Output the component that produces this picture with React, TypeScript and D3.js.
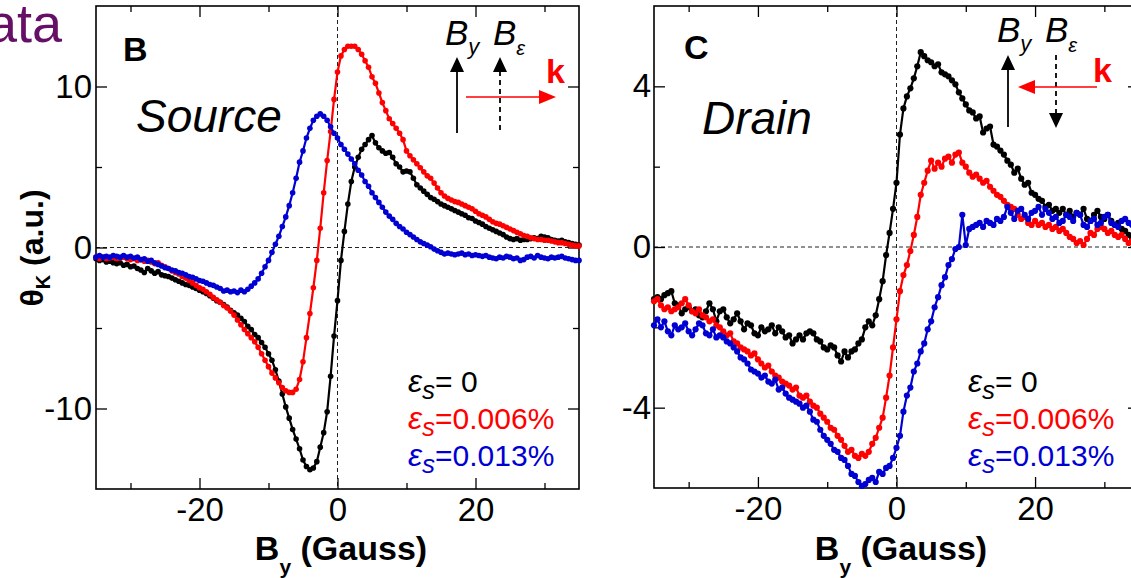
import { useRef, useEffect } from 'react';
import * as d3 from 'd3';

// 掃引磁場 (Gauss) : 0.5 G 刻み
const fieldGauss = d3.range(-35, 35.001, 0.5);

// Source 側 (panel B)
const sourceStrain0 = [
  -0.7, -0.8, -0.75, -0.9, -0.85, -0.95, -1.0, -0.95, -1.1, -1.05,
  -1.2, -1.15, -1.3, -1.4, -1.55, -1.3, -1.45, -1.6, -1.5, -1.7,
  -1.75, -1.8, -1.9, -2.0, -2.1, -2.2, -2.3, -2.35, -2.45, -2.55,
  -2.65, -2.75, -2.85, -3.0, -3.15, -3.3, -3.4, -3.55, -3.7, -3.9,
  -4.05, -4.2, -4.4, -4.6, -4.9, -5.1, -5.4, -5.6, -5.9, -6.2,
  -6.6, -7.0, -7.6, -8.3, -9.1, -9.9, -10.6, -11.3, -11.9, -12.5,
  -13.2, -13.6, -13.8, -13.7, -13.3, -12.4, -11.5, -10.2, -8.0, -5.5,
  -3.3, -0.8, 1.0, 2.7, 4.1, 5.0, 5.6, 6.1, 6.4, 6.7,
  6.95, 6.5, 6.2, 6.0, 5.85, 5.9, 5.6, 5.2, 5.0, 4.7,
  4.75, 4.7, 4.3, 3.9, 3.7, 3.5, 3.3, 3.1, 3.0, 2.85,
  2.7, 2.6, 2.5, 2.4, 2.3, 2.2, 2.1, 2.0, 1.85, 1.8,
  1.65, 1.55, 1.45, 1.3, 1.2, 1.1, 1.0, 0.9, 0.8, 0.65,
  0.55, 0.5, 0.55, 0.45, 0.5, 0.5, 0.55, 0.6, 0.55, 0.7,
  0.65, 0.6, 0.5, 0.45, 0.4, 0.45, 0.35, 0.3, 0.25, 0.2,
  0.15,
];
const sourceStrain006 = [
  -0.6, -0.7, -0.6, -0.7, -0.65, -0.6, -0.7, -0.65, -0.6, -0.7,
  -0.75, -0.7, -0.8, -0.75, -0.85, -0.8, -0.9, -1.0, -0.95, -1.1,
  -1.2, -1.3, -1.45, -1.55, -1.65, -1.8, -1.9, -2.05, -2.2, -2.35,
  -2.5, -2.6, -2.75, -2.9, -3.1, -3.25, -3.4, -3.6, -3.75, -3.95,
  -4.2, -4.5, -4.8, -5.1, -5.35, -5.6, -5.85, -6.2, -6.6, -7.0,
  -7.4, -7.8, -8.1, -8.4, -8.7, -8.9, -9.0, -9.0, -8.8, -8.2,
  -7.1, -5.6, -4.1, -2.5, -0.8, 1.2, 3.4, 5.4, 7.2, 9.2,
  10.9, 11.9, 12.3, 12.5, 12.5, 12.5, 12.3, 12.0, 11.6, 11.2,
  10.6, 10.2, 9.6, 9.0, 8.5, 8.0, 7.7, 7.4, 7.1, 6.7,
  6.0, 5.7, 5.45, 5.2, 4.95, 4.7, 4.45, 4.3, 4.0, 3.7,
  3.4, 3.2, 3.05, 2.95, 2.85, 2.8, 2.7, 2.6, 2.5, 2.4,
  2.25, 2.1, 2.0, 1.9, 1.75, 1.6, 1.5, 1.45, 1.35, 1.25,
  1.15, 1.05, 0.95, 0.85, 0.75, 0.7, 0.6, 0.55, 0.5, 0.5,
  0.45, 0.45, 0.4, 0.35, 0.3, 0.3, 0.25, 0.2, 0.15, 0.1,
  0.1,
];
const sourceStrain013 = [
  -0.6, -0.5, -0.6, -0.55, -0.6, -0.5, -0.55, -0.6, -0.5, -0.6,
  -0.55, -0.65, -0.6, -0.75, -0.7, -0.85, -0.8, -0.95, -1.05, -1.15,
  -1.25, -1.3, -1.4, -1.45, -1.55, -1.6, -1.7, -1.8, -1.85, -1.95,
  -2.05, -2.1, -2.2, -2.3, -2.35, -2.45, -2.55, -2.7, -2.65, -2.75,
  -2.7, -2.8, -2.65, -2.75, -2.6, -2.4, -2.2, -1.95, -1.6, -1.2,
  -0.8, -0.3, 0.2, 0.7, 1.3, 1.9, 2.6, 3.4, 4.3, 5.3,
  6.0, 6.8, 7.4, 7.9, 8.15, 8.3, 8.15, 7.9, 7.5, 7.1,
  6.8, 6.4, 6.1, 5.8, 5.5, 5.2, 4.8, 4.5, 4.1, 3.8,
  3.4, 3.1, 2.8, 2.5, 2.2, 1.95, 1.75, 1.5, 1.3, 1.15,
  0.95, 0.8, 0.65, 0.5, 0.35, 0.25, 0.15, 0.05, -0.1, -0.2,
  -0.3, -0.4, -0.35, -0.4, -0.45, -0.4, -0.35, -0.45, -0.4, -0.5,
  -0.45, -0.5, -0.55, -0.5, -0.6, -0.65, -0.7, -0.6, -0.65, -0.55,
  -0.6, -0.7, -0.65, -0.8, -0.75, -0.6, -0.55, -0.65, -0.5, -0.6,
  -0.65, -0.7, -0.6, -0.65, -0.6, -0.55, -0.65, -0.7, -0.75, -0.8,
  -0.8,
];

// Drain 側 (panel C)
const drainStrain0 = [
  -1.3, -1.25, -1.3, -1.2, -1.15, -1.1, -1.4, -1.45, -1.65, -1.55,
  -1.5, -1.6, -1.55, -1.7, -1.75, -1.6, -1.4, -1.55, -1.85, -1.6,
  -1.55, -1.75, -1.9, -1.8, -1.65, -1.85, -2.05, -1.9, -1.95, -2.15,
  -2.2, -2.0, -2.1, -2.05, -1.95, -2.15, -2.0, -2.1, -2.25, -2.2,
  -2.4, -2.3, -2.2, -2.3, -2.15, -2.1, -2.15, -2.3, -2.35, -2.5,
  -2.55, -2.45, -2.5, -2.7, -2.85, -2.6, -2.75, -2.6, -2.55, -2.4,
  -2.3, -2.0, -1.85, -1.95, -1.7, -1.3, -0.85, -0.2, 0.35, 0.95,
  1.6, 2.8, 3.45, 3.75, 3.95, 4.2, 4.5, 4.85, 4.75, 4.65,
  4.6, 4.5, 4.55, 4.35, 4.3, 4.25, 4.15, 4.05, 3.85, 3.7,
  3.55, 3.4, 3.35, 3.2, 3.25, 2.85, 2.95, 3.0, 2.55, 2.5,
  2.4, 2.3, 2.15, 2.05, 1.85, 1.95, 1.7, 1.55, 1.6, 1.35,
  1.3, 1.2, 1.15, 1.0, 1.05, 0.9, 0.95, 0.85, 0.95, 0.8,
  0.9, 0.75, 0.85, 0.8, 0.95, 0.7, 0.65, 0.8, 0.9, 0.75,
  0.7, 0.8, 0.65, 0.55, 0.6, 0.45, 0.4, 0.3, 0.2, 0.25,
  0.2,
];
const drainStrain006 = [
  -1.35, -1.3, -1.45, -1.55, -1.5, -1.6, -1.55, -1.5, -1.4, -1.3,
  -1.45, -1.6, -1.65, -1.55, -1.7, -1.75, -1.85, -1.8, -1.95, -2.0,
  -2.1, -2.2, -2.15, -2.35, -2.4, -2.5, -2.55, -2.6, -2.7, -2.65,
  -2.8, -2.9, -3.0, -2.95, -3.1, -3.2, -3.25, -3.35, -3.4, -3.45,
  -3.55, -3.5, -3.7, -3.75, -3.7, -3.85, -3.95, -4.0, -4.15, -4.25,
  -4.35, -4.5, -4.55, -4.7, -4.8, -4.95, -5.1, -5.05, -5.2, -5.25,
  -5.15, -5.2, -5.1, -4.9, -4.75, -4.5, -4.25, -3.75, -3.2, -2.5,
  -1.8, -1.1, -0.7, -0.45, -0.1, 0.3, 0.75, 1.3, 1.6, 1.9,
  2.15, 1.95, 2.1, 2.0, 2.2, 2.25, 2.1, 2.3, 2.35, 2.1,
  2.0, 1.85, 1.75, 1.8, 1.7, 1.6, 1.65, 1.5, 1.4, 1.3,
  1.25, 1.15, 1.05, 1.0, 0.95, 0.8, 0.7, 0.75, 0.6, 0.55,
  0.65, 0.55, 0.6, 0.5, 0.55, 0.45, 0.5, 0.4, 0.45, 0.35,
  0.25, 0.2, 0.1, 0.15, 0.05, 0.2, 0.35, 0.3, 0.45, 0.5,
  0.45, 0.35, 0.4, 0.3, 0.25, 0.3, 0.2, 0.1, 0.15, 0.05,
  0.1,
];
const drainStrain013 = [
  -1.95, -1.8, -2.0, -1.85, -2.1, -2.2, -1.95, -2.05, -2.0, -1.9,
  -2.1, -2.2, -2.05, -1.9, -1.95, -2.15, -2.2, -2.05, -2.25, -2.2,
  -2.25, -2.35, -2.4, -2.5, -2.6, -2.75, -2.8, -2.9, -3.05, -3.1,
  -3.15, -3.25, -3.2, -3.35, -3.4, -3.3, -3.55, -3.5, -3.65, -3.75,
  -3.8, -3.85, -3.9, -4.0, -3.95, -4.1, -4.3, -4.35, -4.55, -4.7,
  -4.8, -4.9, -5.05, -5.1, -5.25, -5.3, -5.45, -5.65, -5.7, -5.85,
  -5.95, -5.9, -5.8, -5.75, -5.85, -5.6, -5.65, -5.5, -5.45, -5.25,
  -5.0, -4.7, -4.1, -3.7, -3.5, -3.1, -2.9, -2.6, -2.4, -2.05,
  -1.85, -1.5, -1.25, -0.95, -0.75, -0.45, -0.3, -0.05, 0.0, 0.8,
  0.05, 0.45, 0.5, 0.55, 0.6, 0.5, 0.65, 0.6, 0.55, 0.7,
  0.65, 0.75, 1.0, 0.85, 0.7, 0.9, 0.95, 0.8, 0.7, 0.85,
  0.9, 1.0, 0.8, 0.95, 0.85, 0.7, 0.75, 0.6, 0.65, 0.8,
  0.75, 0.65, 0.85, 0.8, 0.55, 0.5, 0.65, 0.7, 0.55, 0.6,
  0.75, 0.8, 0.6, 0.55, 0.5, 0.65, 0.7, 0.6, 0.55, 0.65,
  0.6,
];

const strainLabels = ['= 0', '=0.006%', '=0.013%'];
const xTicksMajor = [-20, 0, 20];
const xTicksMinor = [-30, -10, 10, 30];
const sourceTicksMajor = [-10, 0, 10];
const sourceTicksMinor = [-5, 5];
const drainTicksMajor = [-4, 0, 4];
const drainTicksMinor = [-2, 2];

const FONT = '"Liberation Sans", Arial, Helvetica, sans-serif';
const COLORS = ['#000000', '#ff0000', '#0000d2'];

function drawPanel(svg, cfg) {
  const x = d3.scaleLinear().domain([-35, 35]).range([cfg.left, cfg.right]);
  const y = d3.scaleLinear().domain(cfg.yDomain).range([cfg.bottom, cfg.top]);
  const g = svg.append('g');

  // ゼロ線 (破線)
  g.append('line')
    .attr('x1', x(0)).attr('x2', x(0))
    .attr('y1', cfg.top).attr('y2', cfg.bottom)
    .attr('stroke', '#222').attr('stroke-width', 1).attr('stroke-dasharray', '4,3');
  g.append('line')
    .attr('x1', cfg.left).attr('x2', cfg.right)
    .attr('y1', y(0)).attr('y2', y(0))
    .attr('stroke', '#222').attr('stroke-width', 1).attr('stroke-dasharray', '4,3');

  // 軸 (目盛りは内向き)
  const fmt = d => String(d);
  const none = () => '';
  const axes = [
    [d3.axisBottom(x).tickValues(xTicksMajor).tickSize(-11).tickPadding(9).tickFormat(fmt), 0, cfg.bottom],
    [d3.axisBottom(x).tickValues(xTicksMinor).tickSize(-6).tickFormat(none), 0, cfg.bottom],
    [d3.axisTop(x).tickValues(xTicksMajor).tickSize(-11).tickFormat(none), 0, cfg.top],
    [d3.axisTop(x).tickValues(xTicksMinor).tickSize(-6).tickFormat(none), 0, cfg.top],
    [d3.axisLeft(y).tickValues(cfg.yMajor).tickSize(-11).tickPadding(cfg.labelPad).tickFormat(fmt), cfg.left, 0],
    [d3.axisLeft(y).tickValues(cfg.yMinor).tickSize(-6).tickFormat(none), cfg.left, 0],
    [d3.axisRight(y).tickValues(cfg.yMajor).tickSize(-11).tickFormat(none), cfg.right, 0],
    [d3.axisRight(y).tickValues(cfg.yMinor).tickSize(-6).tickFormat(none), cfg.right, 0],
  ];
  axes.forEach(([axis, tx, ty]) => {
    const ag = g.append('g').attr('transform', `translate(${tx},${ty})`).call(axis);
    ag.select('.domain').remove();
    ag.selectAll('line').attr('stroke', '#000').attr('stroke-width', 1.3);
    ag.selectAll('text')
      .attr('font-family', FONT)
      .attr('font-size', 33)
      .attr('fill', '#000');
  });

  // 枠
  g.append('rect')
    .attr('x', cfg.left).attr('y', cfg.top)
    .attr('width', cfg.right - cfg.left).attr('height', cfg.bottom - cfg.top)
    .attr('fill', 'none').attr('stroke', '#000').attr('stroke-width', 1.6);

  // データ
  const line = d3.line().x(d => x(d[0])).y(d => y(d[1]));
  cfg.series.forEach((vals, i) => {
    const pts = fieldGauss.map((f, k) => [f, vals[k]]);
    g.append('path')
      .datum(pts)
      .attr('d', line)
      .attr('fill', 'none')
      .attr('stroke', COLORS[i])
      .attr('stroke-width', 2.2);
    g.append('g').selectAll('circle')
      .data(pts)
      .enter()
      .append('circle')
      .attr('cx', d => x(d[0]))
      .attr('cy', d => y(d[1]))
      .attr('r', cfg.markerR)
      .attr('fill', COLORS[i]);
  });

  // x軸タイトル
  const xt = g.append('text')
    .attr('x', cfg.xTitleX).attr('y', 560)
    .attr('text-anchor', 'middle')
    .attr('font-family', FONT).attr('font-weight', 'bold').attr('font-size', 34);
  xt.append('tspan').text('B');
  xt.append('tspan').attr('font-size', 21).attr('dy', 14).text('y');
  xt.append('tspan').attr('dy', -14).text(' (Gauss)');

  // 凡例
  strainLabels.forEach((lab, i) => {
    const t = g.append('text')
      .attr('x', cfg.legendX).attr('y', 392 + i * 37)
      .attr('font-family', FONT).attr('font-size', 30)
      .attr('fill', COLORS[i]);
    t.append('tspan').attr('font-style', 'italic').attr('font-size', 32).text('ε');
    t.append('tspan').attr('font-style', 'italic').attr('font-size', 26).attr('dy', 7).text('s');
    t.append('tspan').attr('dy', -7).text(lab);
  });

  return { x, y, g };
}

function drawArrowHead(g, tipX, tipY, dir, color) {
  // dir: 'up' | 'down' | 'left' | 'right'
  const L = 15, W = 7;
  let pts;
  if (dir === 'up') pts = [[tipX, tipY], [tipX - W, tipY + L], [tipX + W, tipY + L]];
  else if (dir === 'down') pts = [[tipX, tipY], [tipX - W, tipY - L], [tipX + W, tipY - L]];
  else if (dir === 'right') pts = [[tipX, tipY], [tipX - L - 2, tipY - W], [tipX - L - 2, tipY + W]];
  else pts = [[tipX, tipY], [tipX + L + 2, tipY - W], [tipX + L + 2, tipY + W]];
  g.append('path').attr('d', 'M' + pts.join('L') + 'Z').attr('fill', color);
}

function drawFieldLabels(g, bx, by) {
  const t1 = g.append('text').attr('x', bx).attr('y', by)
    .attr('font-family', FONT).attr('font-style', 'italic').attr('font-size', 35);
  t1.append('tspan').text('B');
  t1.append('tspan').attr('font-size', 22).attr('dy', 9).text('y');
  const t2 = g.append('text').attr('x', bx + 48).attr('y', by)
    .attr('font-family', FONT).attr('font-style', 'italic').attr('font-size', 35);
  t2.append('tspan').text('B');
  t2.append('tspan').attr('font-size', 20).attr('dy', 10).text('ε');
}

export default function App() {
  const svgRef = useRef(null);

  useEffect(() => {
    const svg = d3.select(svgRef.current);
    svg.selectAll('*').remove();

    svg.append('rect').attr('width', 1131).attr('height', 578).attr('fill', '#fff');

    // 左上の見切れたタイトル
    svg.append('text')
      .attr('x', 62).attr('y', 42)
      .attr('text-anchor', 'end')
      .attr('font-family', FONT).attr('font-size', 54)
      .attr('fill', '#650f66')
      .text('Data');

    // ---- Panel B (Source) ----
    const pb = drawPanel(svg, {
      left: 96, right: 579, top: 6, bottom: 489,
      yDomain: [-15, 15], yMajor: sourceTicksMajor, yMinor: sourceTicksMinor,
      labelPad: 4, markerR: 2.8, xTitleX: 341, legendX: 408,
      series: [sourceStrain0, sourceStrain006, sourceStrain013],
    });

    const yt = svg.append('text')
      .attr('transform', 'translate(43,248) rotate(-90)')
      .attr('text-anchor', 'middle')
      .attr('font-family', FONT).attr('font-weight', 'bold').attr('font-size', 32);
    yt.append('tspan').text('θ');
    yt.append('tspan').attr('font-size', 20).attr('dy', 7).text('K');
    yt.append('tspan').attr('dy', -7).text(' (a.u.)');

    const gb = pb.g;
    gb.append('text').attr('x', 123).attr('y', 61)
      .attr('font-family', FONT).attr('font-weight', 'bold').attr('font-size', 34).text('B');
    gb.append('text').attr('x', 136).attr('y', 132)
      .attr('font-family', FONT).attr('font-style', 'italic').attr('font-size', 46).text('Source');
    drawFieldLabels(gb, 445, 45);
    gb.append('line').attr('x1', 457).attr('x2', 457).attr('y1', 133).attr('y2', 70)
      .attr('stroke', '#000').attr('stroke-width', 1.8);
    drawArrowHead(gb, 457, 57, 'up', '#000');
    gb.append('line').attr('x1', 500).attr('x2', 500).attr('y1', 130).attr('y2', 70)
      .attr('stroke', '#000').attr('stroke-width', 1.8).attr('stroke-dasharray', '5,4');
    drawArrowHead(gb, 500, 57, 'up', '#000');
    gb.append('line').attr('x1', 466).attr('x2', 542).attr('y1', 97).attr('y2', 97)
      .attr('stroke', '#ff0000').attr('stroke-width', 1.6);
    drawArrowHead(gb, 556, 97, 'right', '#ff0000');
    gb.append('text').attr('x', 546).attr('y', 83)
      .attr('font-family', FONT).attr('font-weight', 'bold').attr('font-size', 34)
      .attr('fill', '#ff0000').text('k');

    // ---- Panel C (Drain) ----
    const pc = drawPanel(svg, {
      left: 654, right: 1139, top: 6, bottom: 488,
      yDomain: [-6, 6], yMajor: drainTicksMajor, yMinor: drainTicksMinor,
      labelPad: 3, markerR: 3.1, xTitleX: 901, legendX: 968,
      series: [drainStrain0, drainStrain006, drainStrain013],
    });
    const gc = pc.g;
    gc.append('text').attr('x', 684).attr('y', 59)
      .attr('font-family', FONT).attr('font-weight', 'bold').attr('font-size', 34).text('C');
    gc.append('text').attr('x', 702).attr('y', 134)
      .attr('font-family', FONT).attr('font-style', 'italic').attr('font-size', 46).text('Drain');
    drawFieldLabels(gc, 997, 42);
    gc.append('line').attr('x1', 1008).attr('x2', 1008).attr('y1', 127).attr('y2', 68)
      .attr('stroke', '#000').attr('stroke-width', 1.8);
    drawArrowHead(gc, 1008, 55, 'up', '#000');
    gc.append('line').attr('x1', 1056).attr('x2', 1056).attr('y1', 55).attr('y2', 115)
      .attr('stroke', '#000').attr('stroke-width', 1.8).attr('stroke-dasharray', '5,4');
    drawArrowHead(gc, 1056, 128, 'down', '#000');
    gc.append('line').attr('x1', 1097).attr('x2', 1032).attr('y1', 87).attr('y2', 87)
      .attr('stroke', '#ff0000').attr('stroke-width', 1.6);
    drawArrowHead(gc, 1018, 87, 'left', '#ff0000');
    gc.append('text').attr('x', 1093).attr('y', 82)
      .attr('font-family', FONT).attr('font-weight', 'bold').attr('font-size', 34)
      .attr('fill', '#ff0000').text('k');
  }, []);

  return (
    <svg
      ref={svgRef}
      width={1131}
      height={578}
      style={{ position: 'absolute', left: 0, top: 0, display: 'block' }}
    />
  );
}
